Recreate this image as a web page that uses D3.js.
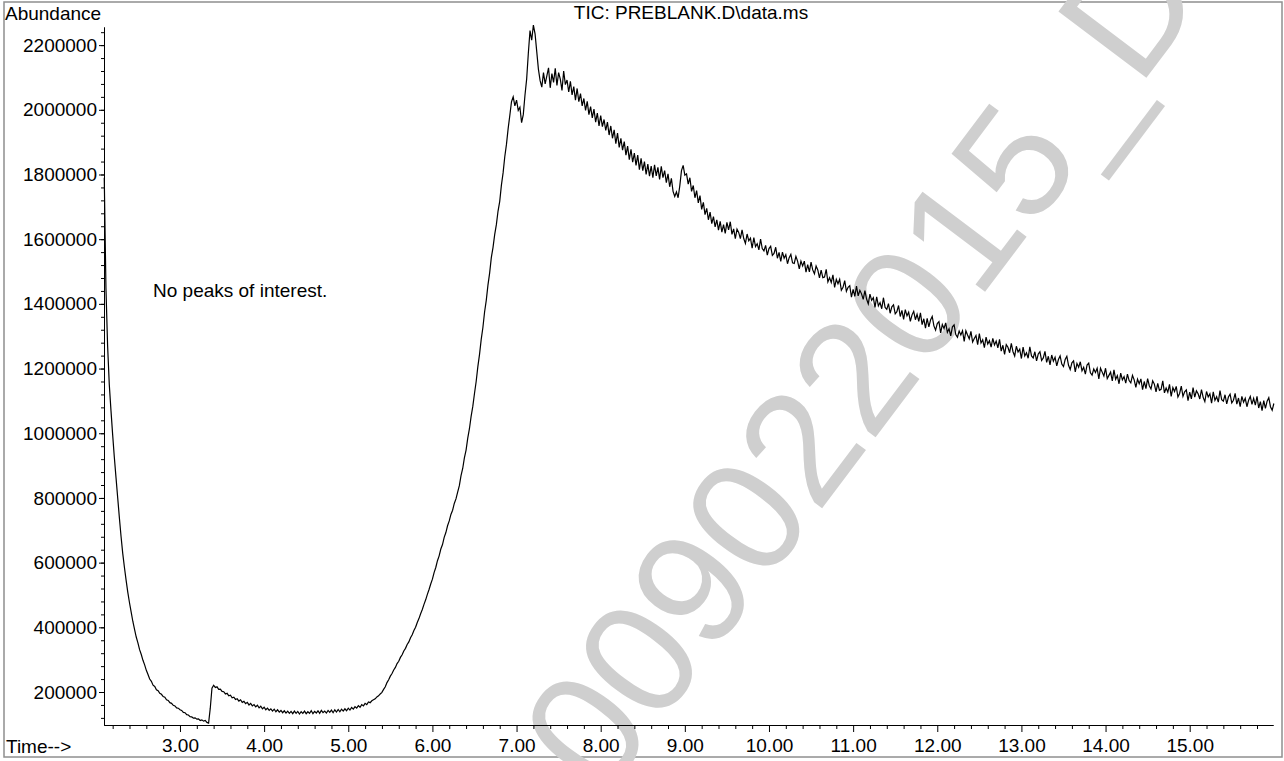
<!DOCTYPE html>
<html>
<head>
<meta charset="utf-8">
<script src="https://cdn.jsdelivr.net/npm/d3@7"></script>
<style>
  body { margin: 0; background: #fff; }
  svg text { font-family: "Liberation Sans", Arial, Helvetica, sans-serif; }
</style>
</head>
<body>
<script>
// Scan spacing (minutes) of the traced TIC
const scanStep = 0.02;

// Abundance in thousands
const dropStart = 2.10;
const dropK = [
  1790, 1450, 1270, 1150, 1070, 995, 925, 862, 800, 738,
  680, 628, 585, 545, 508, 476, 447, 418, 394, 370,
  352, 331, 316, 298, 284, 267, 254, 240, 233, 221,
  217, 207, 204, 196, 193, 186, 184, 176, 174, 167,
  165, 159, 157, 151, 150, 145, 143, 137, 136, 130,
  129, 124, 123, 119, 120, 116, 117, 112, 114, 110,
  112, 106, 104
];

const valleyStart = 3.36;
const valleyK = [
  150, 212, 221, 214, 216, 208, 209, 202, 201, 194,
  196, 188, 190, 182, 184, 177, 179, 172, 176, 168,
  171, 164, 168, 160, 165, 157, 161, 154, 159, 151,
  156, 148, 153, 145, 150, 143, 148, 141, 147, 139,
  145, 138, 143, 136, 142, 135, 141, 134, 140, 133,
  141, 134, 140, 132, 139, 134, 141, 133, 139, 134,
  142, 133, 140, 135, 142, 134, 143, 136, 141, 135,
  143, 137, 144, 136, 145, 138, 146, 139, 147, 141,
  148, 142, 150, 144, 152, 147, 155, 150, 158, 153,
  161, 157, 165, 161, 169, 167, 173
];

const riseStart = 5.30;
const riseK = [
  176, 179, 185, 188, 194, 199, 208, 216, 229, 238,
  249, 257, 268, 276, 288, 295, 307, 315, 327, 335,
  347, 355, 368, 377, 390, 400, 415, 427, 442, 455,
  471, 485, 502, 517, 534, 549, 569, 585, 606, 621,
  642, 656, 678, 693, 714, 729, 749, 762, 783, 797,
  818, 838, 869, 891, 924, 948, 985, 1014, 1052, 1083,
  1123, 1160, 1206, 1244, 1290, 1327, 1375, 1411, 1458, 1495,
  1543, 1574, 1614, 1645, 1687, 1717, 1767, 1805, 1855, 1893,
  1942, 1983
];

const peakStart = 6.94;
const peakK = [
  2025, 2040, 2012, 2030, 1998, 2008, 1960, 1985, 2045, 2095,
  2175, 2245, 2215, 2262, 2235, 2180, 2125, 2090, 2070, 2115,
  2080, 2105, 2130, 2068, 2112, 2085, 2128, 2075, 2115, 2095,
  2060, 2120, 2078, 2092, 2055, 2088, 2046, 2072, 2030, 2066,
  2025, 2050, 2012, 2035, 1998, 2026, 1985, 2010, 1975, 2002,
  1962, 1990, 1950, 1982, 1948, 1970, 1936, 1962, 1922, 1950,
  1912, 1938, 1895, 1928, 1884, 1912, 1875, 1902, 1860, 1888,
  1846, 1878, 1838, 1866, 1828, 1860, 1815, 1850, 1812, 1840,
  1800, 1832, 1795, 1826, 1790, 1830, 1796, 1822, 1785, 1825,
  1790, 1812, 1775, 1802, 1762, 1788, 1748, 1732, 1746, 1728,
  1765, 1812, 1828, 1798, 1802, 1770, 1790, 1748, 1766, 1728,
  1750, 1712, 1735, 1692, 1714, 1676, 1695, 1660, 1684, 1648,
  1670, 1638, 1660, 1628, 1655, 1622, 1645, 1618
];

const tailStart = 9.50;
const tailK = [
  1652, 1629, 1654, 1615, 1632, 1602, 1631, 1621, 1602, 1629,
  1602, 1587, 1616, 1595, 1603, 1572, 1605, 1577, 1586, 1567,
  1600, 1571, 1564, 1581, 1551, 1571, 1578, 1550, 1556, 1575,
  1541, 1559, 1531, 1560, 1541, 1552, 1524, 1543, 1553, 1527,
  1525, 1547, 1532, 1508, 1532, 1517, 1532, 1498, 1521, 1499,
  1529, 1505, 1493, 1517, 1505, 1480, 1504, 1481, 1483, 1507,
  1468, 1481, 1466, 1490, 1451, 1476, 1462, 1476, 1442, 1451,
  1472, 1439, 1451, 1456, 1421, 1445, 1423, 1455, 1425, 1442,
  1431, 1414, 1441, 1415, 1400, 1430, 1411, 1419, 1389, 1422,
  1394, 1404, 1385, 1419, 1389, 1383, 1401, 1371, 1391, 1397,
  1369, 1376, 1395, 1361, 1380, 1352, 1382, 1363, 1374, 1346,
  1366, 1377, 1351, 1368, 1346, 1372, 1336, 1354, 1325, 1355,
  1329, 1350, 1361, 1332, 1319, 1339, 1345, 1310, 1336, 1324,
  1341, 1312, 1323, 1301, 1329, 1335, 1305, 1297, 1316, 1304,
  1317, 1284, 1317, 1304, 1292, 1315, 1282, 1293, 1302, 1274,
  1308, 1279, 1289, 1265, 1297, 1276, 1286, 1266, 1293, 1273,
  1285, 1264, 1290, 1254, 1272, 1244, 1274, 1266, 1249, 1278,
  1252, 1239, 1269, 1251, 1260, 1231, 1266, 1239, 1249, 1232,
  1267, 1239, 1233, 1252, 1224, 1245, 1252, 1225, 1233, 1253,
  1219, 1238, 1211, 1242, 1223, 1235, 1208, 1228, 1239, 1214,
  1206, 1228, 1238, 1210, 1197, 1218, 1224, 1190, 1216, 1204,
  1221, 1193, 1204, 1183, 1211, 1217, 1187, 1180, 1199, 1188,
  1201, 1168, 1201, 1189, 1177, 1201, 1169, 1179, 1189, 1162,
  1196, 1167, 1178, 1153, 1186, 1165, 1175, 1155, 1183, 1163,
  1156, 1179, 1165, 1142, 1167, 1153, 1168, 1135, 1160, 1138,
  1169, 1147, 1137, 1162, 1152, 1128, 1154, 1133, 1136, 1162,
  1125, 1140, 1127, 1151, 1114, 1141, 1129, 1145, 1112, 1123,
  1146, 1114, 1128, 1134, 1101, 1127, 1106, 1141, 1112, 1131,
  1122, 1106, 1135, 1111, 1098, 1129, 1112, 1122, 1093, 1128,
  1102, 1113, 1096, 1132, 1104, 1099, 1119, 1091, 1112, 1121,
  1094, 1102, 1123, 1090, 1109, 1082, 1114, 1096, 1108, 1082,
  1102, 1114, 1089, 1108, 1087, 1114, 1078, 1098, 1070, 1101,
  1077, 1099, 1110, 1082, 1071, 1092
];

// Tick values and texts
const timeTicks = [3, 4, 5, 6, 7, 8, 9, 10, 11, 12, 13, 14, 15];
const abundanceTicks = [200000, 400000, 600000, 800000, 1000000, 1200000,
  1400000, 1600000, 1800000, 2000000, 2200000];
const chartTitle = "TIC: PREBLANK.D\\data.ms";
const note = "No peaks of interest.";
const watermark = "009022015_D";

// Chart dimensions
const width = 1284;
const height = 761;

const svg = d3.select("body")
  .append("svg")
  .attr("width", width)
  .attr("height", height);

// Scales
const xScale = d3.scaleLinear()
  .domain([2.097, 15.99])
  .range([104, 1273]);

const yScale = d3.scaleLinear()
  .domain([98000, 2256000])
  .range([725, 27]);

// Outer frame
svg.append("rect")
  .attr("x", 4)
  .attr("y", 2)
  .attr("width", 1278)
  .attr("height", 755)
  .attr("fill", "none")
  .attr("stroke", "#8f8f8f")
  .attr("stroke-width", 1.5);

// Watermark behind the trace
svg.append("text")
  .attr("transform", "translate(603,799) rotate(-53)")
  .attr("font-size", 160)
  .attr("fill", "#cfcfcf")
  .text(watermark);

// Build the trace from the segments
const segments = [
  [dropStart, dropK],
  [valleyStart, valleyK],
  [riseStart, riseK],
  [peakStart, peakK],
  [tailStart, tailK]
];
const trace = segments.flatMap(([t0, vals]) =>
  vals.map((v, i) => ({ t: t0 + i * scanStep, v: v * 1000 })));

// Minor ticks
const xMinor = xScale.ticks(70).filter(d => !timeTicks.includes(Math.round(d * 100) / 100));
const yMinor = d3.range(120000, 2256000, 40000);

function styleAxis(g) {
  g.attr("font-size", null).attr("font-family", null);
  g.selectAll("path, line").attr("stroke", "#000");
  g.selectAll("text").attr("fill", "#000").style("font-size", "19px");
}

svg.append("g")
  .attr("transform", "translate(0,725)")
  .call(d3.axisBottom(xScale).tickValues(xMinor).tickSize(4).tickSizeOuter(0).tickFormat(""))
  .call(styleAxis);

svg.append("g")
  .attr("transform", "translate(0,725)")
  .call(d3.axisBottom(xScale).tickValues(timeTicks).tickSize(7).tickPadding(7)
    .tickSizeOuter(0).tickFormat(d3.format(".2f")))
  .call(styleAxis);

svg.append("g")
  .attr("transform", "translate(104,0)")
  .call(d3.axisLeft(yScale).tickValues(yMinor).tickSize(3).tickSizeOuter(0).tickFormat(""))
  .call(styleAxis);

svg.append("g")
  .attr("transform", "translate(104,0)")
  .call(d3.axisLeft(yScale).tickValues(abundanceTicks).tickSize(5).tickPadding(2)
    .tickSizeOuter(0).tickFormat(d3.format("d")))
  .call(styleAxis);

// The TIC trace
svg.append("path")
  .datum(trace)
  .attr("fill", "none")
  .attr("stroke", "#000")
  .attr("stroke-width", 1.2)
  .attr("d", d3.line().x(d => xScale(d.t)).y(d => yScale(d.v)));

// Labels
svg.append("text")
  .attr("x", 5)
  .attr("y", 20)
  .style("font-size", "19px")
  .text("Abundance");

svg.append("text")
  .attr("x", 6)
  .attr("y", 753)
  .style("font-size", "19px")
  .text("Time-->");

svg.append("text")
  .attr("x", 691)
  .attr("y", 19)
  .attr("text-anchor", "middle")
  .style("font-size", "19px")
  .text(chartTitle);

svg.append("text")
  .attr("x", 153)
  .attr("y", 297)
  .style("font-size", "19px")
  .text(note);
</script>
</body>
</html>
